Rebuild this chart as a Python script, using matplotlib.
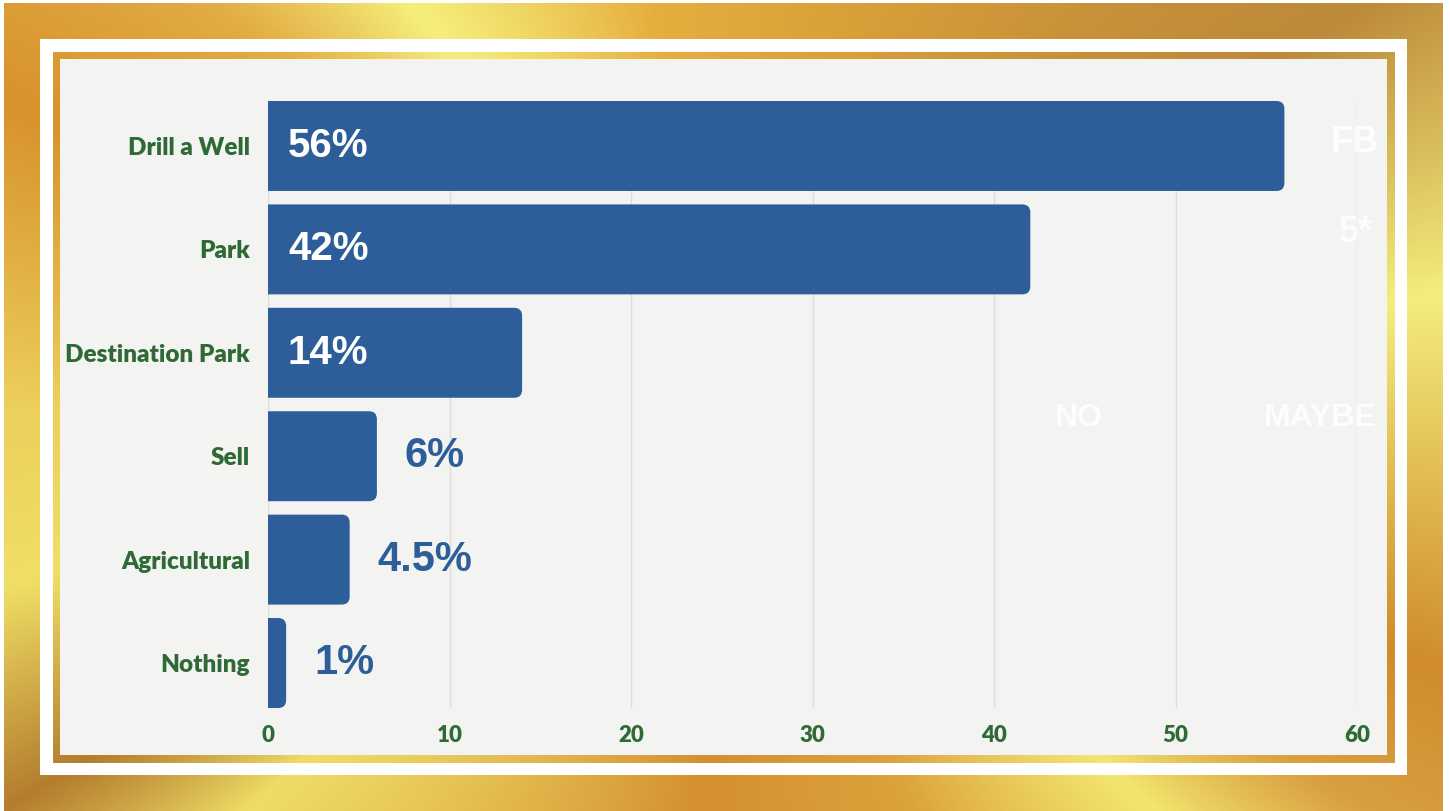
import numpy as np
import matplotlib.pyplot as plt
from matplotlib.colors import to_rgb
from matplotlib.patches import Rectangle, FancyBboxPatch

# Datos
categories = ['Drill a Well', 'Park', 'Destination Park', 'Sell', 'Agricultural', 'Nothing']
values = [56, 42, 14, 6, 4.5, 1]
value_labels = ['56%', '42%', '14%', '6%', '4.5%', '1%']
x_ticks = [0, 10, 20, 30, 40, 50, 60]
ghost_words = ['FB', '5*', 'NO', 'MAYBE']

BLUE = '#2e5e99'
GREEN = '#2f6a36'
W, H = 1450, 811

fig = plt.figure(figsize=(14.5, 8.11), dpi=100)
fig.patch.set_facecolor('white')

# Marco dorado (fondo)
bg = fig.add_axes([0, 0, 1, 1])
bg.set_xlim(0, W)
bg.set_ylim(H, 0)
bg.axis('off')

yy, xx = np.mgrid[0:H, 0:W]
ang = np.degrees(np.arctan2(yy - H / 2, xx - W / 2))
stops = [(-180, '#eccf5c'), (-157, '#d8922e'), (-142, '#e2ac44'), (-128, '#f6ef7c'),
         (-100, '#e6ae3e'), (-65, '#d69c38'), (-32, '#bd8a3a'), (-9, '#f4ee7c'),
         (20, '#d08c2c'), (32, '#d9a040'), (43, '#f3e670'), (65, '#dca23c'),
         (93, '#d48f2f'), (125, '#e6c254'), (140, '#efdc66'), (151, '#b47d2e'),
         (166, '#f0df66'), (180, '#eccf5c')]
angs = [s[0] for s in stops]
cols = np.array([to_rgb(s[1]) for s in stops])
grad = np.dstack([np.interp(ang, angs, cols[:, i]) for i in range(3)])

bg.imshow(grad, extent=(4, 1443, H, 3), aspect='auto', zorder=0)
bg.add_patch(Rectangle((40, 39), 1367, 736, facecolor='white', edgecolor='none', zorder=1))
bg.imshow(grad[52:763, 53:1395], extent=(53, 1395, 763, 52), aspect='auto', zorder=2)
bg.add_patch(Rectangle((60, 59), 1327, 696, facecolor='#f3f3f2', edgecolor='none', zorder=3))

# Textos fantasma
ghost = dict(color='white', fontweight='bold', family='Liberation Sans',
             ha='center', va='center', zorder=4, alpha=0.85)
bg.text(1355, 143, ghost_words[0], fontsize=26, **ghost)
bg.text(1356, 232, ghost_words[1], fontsize=26, **ghost)
bg.text(1079, 418, ghost_words[2], fontsize=23, **ghost)
bg.text(1320, 418, ghost_words[3], fontsize=23, **ghost)

# Gráfica de barras
ax = fig.add_axes([268 / W, 1 - 708 / H, (1357 - 268) / W, (708 - 101) / H])
ax.set_facecolor('none')
bars = ax.barh(categories, values, height=0.87, color=BLUE)
ax.set_xlim(0, 60)
ax.set_ylim(len(categories) - 1 + 0.435, -0.435)

# esquinas redondeadas a la derecha
px_x = (1357 - 268) / 60.0
px_y = (708 - 101) / (len(categories) - 0.13)
r = 8 / px_x
for b in bars:
    x0, y0 = b.get_x(), b.get_y()
    w, h = b.get_width(), b.get_height()
    b.set_visible(False)
    rr = min(r, w / 2)
    p = FancyBboxPatch((x0 - rr, y0), w + rr, h,
                       boxstyle=f'round,pad=0,rounding_size={rr}',
                       mutation_aspect=px_x / px_y,
                       facecolor=BLUE, edgecolor='none', zorder=3)
    ax.add_patch(p)

for i, (v, lab) in enumerate(zip(values, value_labels)):
    if v > 10:
        ax.text(20 / px_x, i, lab, color='white', fontsize=29, fontweight='bold',
                family='Liberation Sans', ha='left', va='center', zorder=4)
    else:
        ax.text(v + 28 / px_x, i, lab, color=BLUE, fontsize=30, fontweight='bold',
                family='Liberation Sans', ha='left', va='center', zorder=4)

ax.set_xticks(x_ticks)
ax.xaxis.grid(True, color='#dcdcdc', linewidth=1)
ax.set_axisbelow(True)
for s in ax.spines.values():
    s.set_visible(False)
ax.tick_params(axis='both', length=0)
ax.tick_params(axis='x', pad=12)
ax.tick_params(axis='y', pad=13)
for t in ax.get_xticklabels():
    t.set_fontfamily('Lato')
    t.set_fontweight('heavy')
    t.set_fontsize(16)
    t.set_color(GREEN)
for t in ax.get_yticklabels():
    t.set_fontfamily('Lato')
    t.set_fontweight('heavy')
    t.set_fontsize(17.5)
    t.set_color(GREEN)

fig.savefig('out.png', dpi=100, facecolor='white')
